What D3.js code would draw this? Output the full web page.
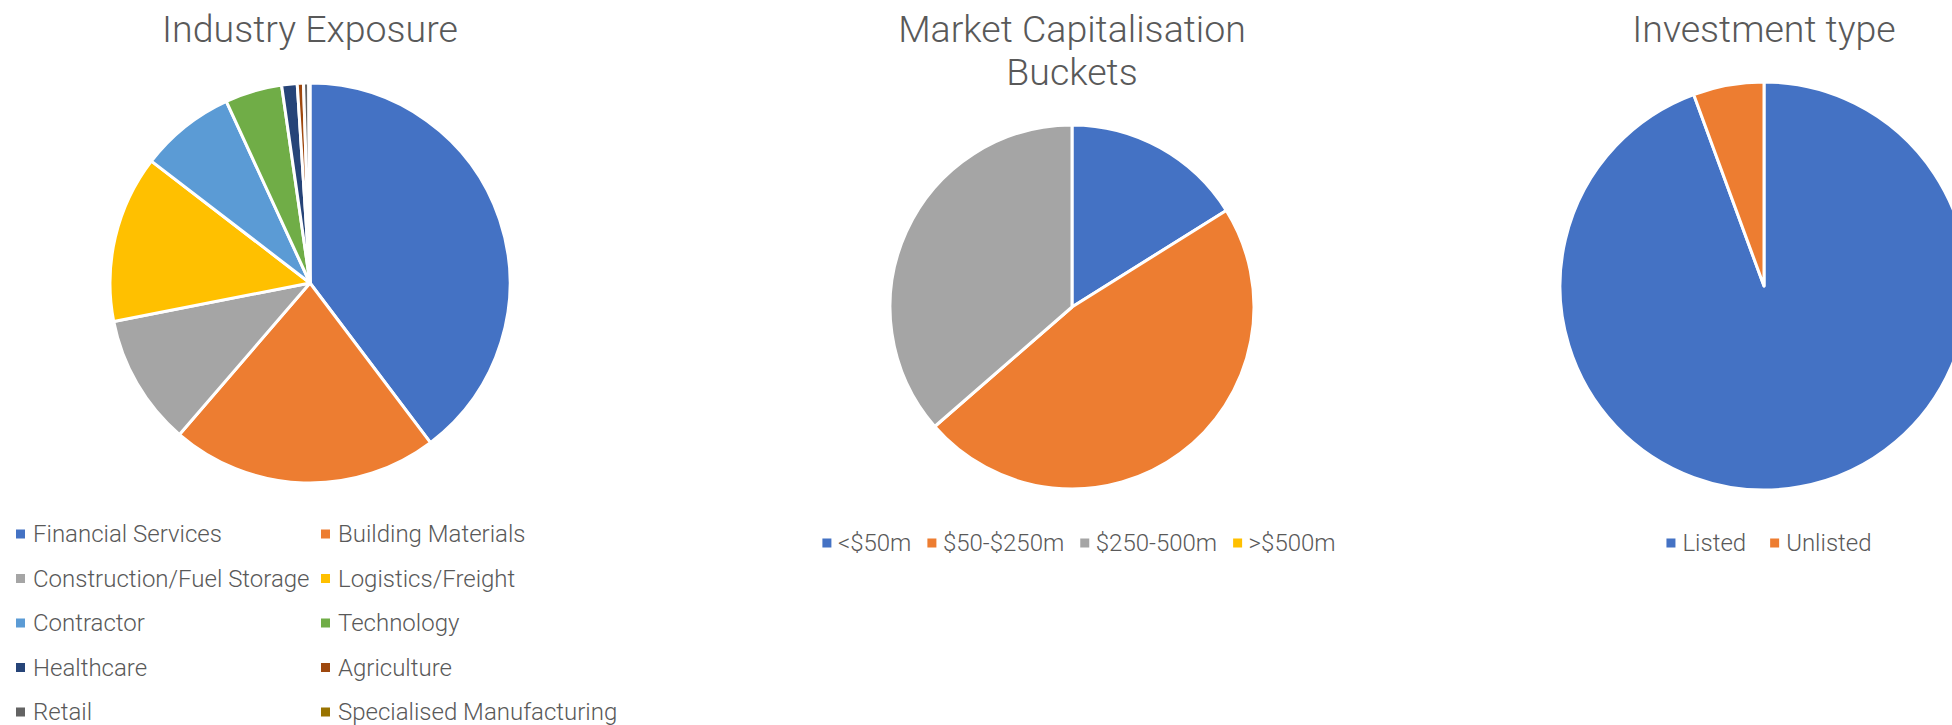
<!DOCTYPE html>
<html>
<head>
<meta charset="utf-8">
<script src="https://cdn.jsdelivr.net/npm/d3@7"></script>
<style>
  body { margin: 0; background: #fff; }
  text { font-family: Roboto, "Open Sans", sans-serif; font-weight: 300; fill: #595959; }
</style>
</head>
<body>
<div class="charts"></div>
<script>
// industry exposure (% of portfolio)
const industryNames = ["Financial Services", "Building Materials", "Construction/Fuel Storage", "Logistics/Freight",
  "Contractor", "Technology", "Healthcare", "Agriculture", "Retail", "Specialised Manufacturing"];
const industryValues = [39.7, 21.6, 10.6, 13.5, 7.7, 4.6, 1.25, 0.5, 0.42, 0.1];

// market cap buckets
const capNames = ["<$50m", "$50-$250m", "$250-500m", ">$500m"];
const capValues = [16.1, 47.5, 36.4, 0];

// investment type
const typeNames = ["Listed", "Unlisted"];
const typeValues = [94.4, 5.6];

const palette = ["#4472C4", "#ED7D31", "#A5A5A5", "#FFC000", "#5B9BD5", "#70AD47",
  "#264478", "#9E480E", "#636363", "#997300"];

const W = 1952, H = 725;

const svg = d3.select(".charts")
  .append("svg")
    .attr("width", W)
    .attr("height", H);

// draw one pie with its title
function drawPie(names, values, cx, cy, r, titleLines) {
  const color = d3.scaleOrdinal().domain(names).range(palette);
  const pie = d3.pie().sort(null).value(d => d.v);
  const arc = d3.arc().innerRadius(0).outerRadius(r);
  const data = names.map((n, i) => ({ n: n, v: values[i] }));

  const g = svg.append("g").attr("transform", `translate(${cx},${cy})`);
  g.selectAll("path")
    .data(pie(data).filter(d => d.data.v > 0))
    .join("path")
      .attr("d", arc)
      .attr("fill", d => color(d.data.n))
      .attr("stroke", "#fff")
      .attr("stroke-width", 3)
      .attr("stroke-linejoin", "round");

  svg.append("text")
    .attr("x", cx)
    .attr("text-anchor", "middle")
    .style("font-size", "37.5px")
    .selectAll("tspan")
    .data(titleLines)
    .join("tspan")
      .attr("x", cx)
      .attr("y", (d, i) => 42 + i * 43)
      .text(d => d);

  return color;
}

const c1 = drawPie(industryNames, industryValues, 310, 283, 200, ["Industry Exposure"]);
const c2 = drawPie(capNames, capValues, 1072, 307, 182, ["Market Capitalisation", "Buckets"]);
const c3 = drawPie(typeNames, typeValues, 1764, 286, 204, ["Investment type"]);

const legendSize = 24;

// legend item helper
function legendItem(x, y, name, color, off) {
  const g = svg.append("g").attr("transform", `translate(${x},${y})`);
  g.append("rect")
    .attr("x", 0).attr("y", -4.5)
    .attr("width", 9).attr("height", 9)
    .attr("fill", color(name));
  g.append("text")
    .attr("x", off)
    .attr("dy", "0.35em")
    .style("font-size", legendSize + "px")
    .text(name);
}

// industry legend, two columns
industryNames.forEach((n, i) => {
  const col = i % 2, row = Math.floor(i / 2);
  legendItem(16 + col * 305, 534 + row * 44.5, n, c1, 17);
});

// single row legend, centred
function rowLegend(names, color, cx, y, gap, off) {
  const tmp = svg.append("text").style("font-size", legendSize + "px");
  const widths = names.map(n => { tmp.text(n); return tmp.node().getComputedTextLength(); });
  tmp.remove();
  const total = d3.sum(widths) + names.length * off + (names.length - 1) * gap;
  let x = cx - total / 2;
  names.forEach((n, i) => {
    legendItem(x, y, n, color, off);
    x += off + widths[i] + gap;
  });
}
rowLegend(capNames, c2, 1079, 543, 16, 15.5);
rowLegend(typeNames, c3, 1769, 543, 24, 16);
</script>
</body>
</html>
